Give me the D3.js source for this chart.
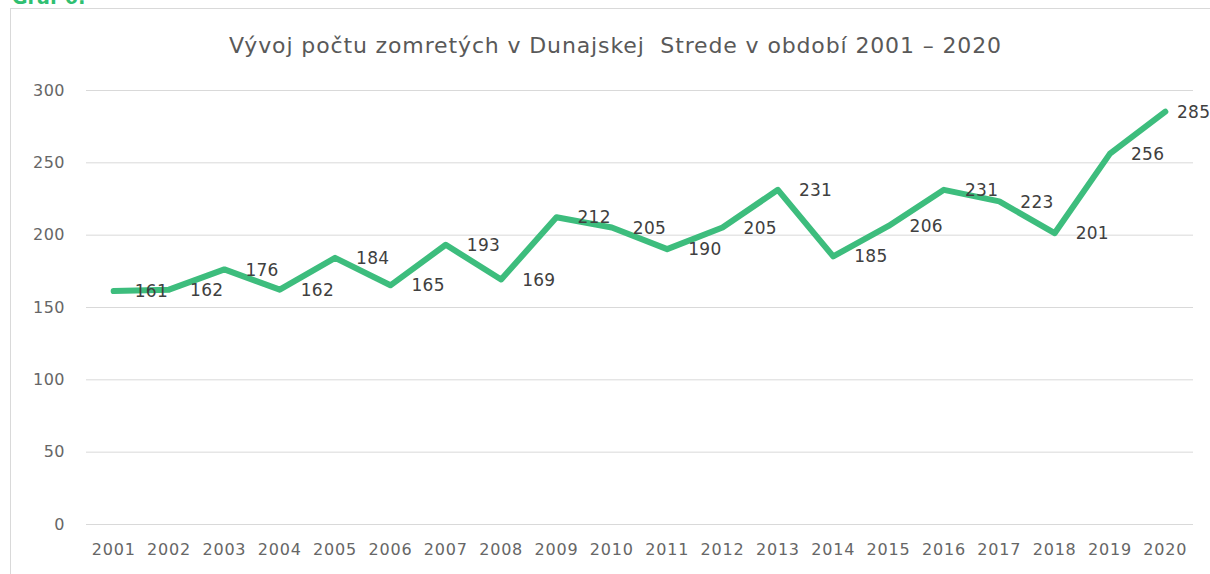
<!DOCTYPE html>
<html>
<head>
<meta charset="utf-8">
<script src="https://cdn.jsdelivr.net/npm/d3@7"></script>
<style>
  body { margin: 0; background: #fff; }
  svg { display: block; font-family: "DejaVu Sans", sans-serif; }
</style>
</head>
<body>
<svg id="chart"></svg>
<script>
// data
const years = ['2001','2002','2003','2004','2005','2006','2007','2008','2009','2010',
               '2011','2012','2013','2014','2015','2016','2017','2018','2019','2020'];
const deaths = [161,162,176,162,184,165,193,169,212,205,190,205,231,185,206,231,223,201,256,285];
const yTicks = [0, 50, 100, 150, 200, 250, 300];
const title = 'Vývoj počtu zomretých v Dunajskej  Strede v období 2001 – 2020';

const W = 1210, H = 574;
const margin = {top: 90, right: 17, bottom: 50, left: 86};
const svg = d3.select('#chart').attr('width', W).attr('height', H);
const font = '"DejaVu Sans", sans-serif';

// caption above the chart box, cut off at the top edge
svg.append('text').attr('x', 12).attr('y', 4)
  .attr('fill', '#2fbf71').attr('font-size', 19).attr('font-weight', 600)
  .text('Graf 6:');

// chart box
svg.append('rect').attr('x', 10.5).attr('y', 8.5)
  .attr('width', W).attr('height', H)
  .attr('fill', 'none').attr('stroke', '#d9d9d9');

svg.append('text').attr('x', 615).attr('y', 53)
  .attr('text-anchor', 'middle').attr('fill', '#595959')
  .attr('font-size', 22).attr('textLength', 772).attr('lengthAdjust', 'spacing')
  .style('white-space', 'pre')
  .text(title);

const x = d3.scaleBand().domain(years)
  .range([margin.left, W - margin.right]);
const y = d3.scaleLinear().domain([0, 300])
  .range([H - margin.bottom, margin.top]);

// gridlines + y labels
const yAxis = svg.append('g')
  .attr('transform', `translate(${margin.left},0)`)
  .call(d3.axisLeft(y).tickValues(yTicks)
    .tickSize(-(W - margin.left - margin.right)).tickPadding(21));
yAxis.select('.domain').remove();
yAxis.selectAll('line').attr('stroke', '#d9d9d9');
yAxis.selectAll('text').attr('fill', '#666').attr('font-size', 16)
  .attr('font-family', font).attr('letter-spacing', 0.5);

// x labels
const xAxis = svg.append('g')
  .attr('transform', `translate(0,${H - margin.bottom})`)
  .call(d3.axisBottom(x).tickSize(0).tickPadding(20));
xAxis.select('.domain').remove();
xAxis.selectAll('text').attr('fill', '#666').attr('font-size', 16)
  .attr('font-family', font).attr('letter-spacing', 0.8);

const cx = d => x(d) + x.bandwidth() / 2;

const line = d3.line()
  .x((d, i) => cx(years[i]))
  .y(d => y(d));

svg.append('path').datum(deaths)
  .attr('d', line)
  .attr('fill', 'none')
  .attr('stroke', '#3dbd7d')
  .attr('stroke-width', 6)
  .attr('stroke-linejoin', 'round')
  .attr('stroke-linecap', 'round');

// value labels to the right of each point
svg.append('g').selectAll('text').data(deaths).join('text')
  .attr('x', (d, i) => Math.min(cx(years[i]) + 21, W - 33))
  .attr('y', d => y(d))
  .attr('dy', '0.36em')
  .attr('fill', '#404040')
  .attr('font-size', 17)
  .attr('letter-spacing', 0.3)
  .text(d => d);
</script>
</body>
</html>
